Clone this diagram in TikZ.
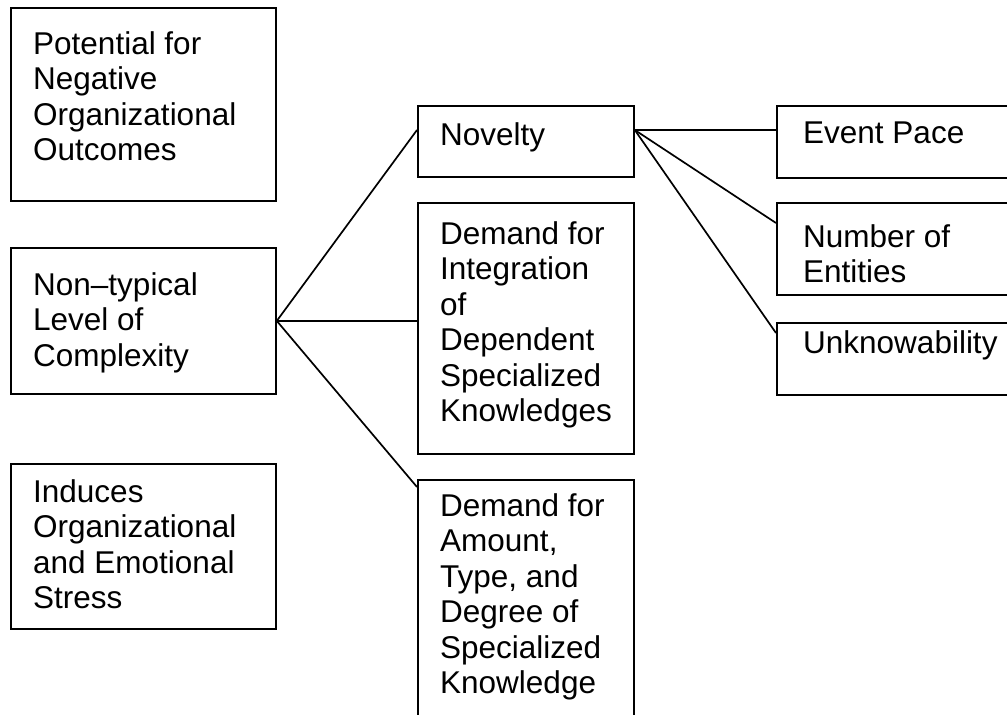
\documentclass[tikz,border=0pt]{standalone}
\usepackage{fontspec}
\setmainfont{Liberation Sans}
\begin{document}
\begin{tikzpicture}[x=1pt,y=-1pt,
  box/.style={draw=black,line width=1.8pt,rectangle,inner sep=0pt,anchor=north west},
  label/.style={inner sep=0pt,anchor=north west,align=left,
    font=\fontsize{31.5}{35.5}\selectfont},
  link/.style={draw=black,line width=1.7pt}]
\useasboundingbox (0,0) rectangle (1007,715);
\clip (0,0) rectangle (1007,715);

% left column
\node[box,minimum width=265pt,minimum height=193pt] (outc) at (10,7) {};
\node[label] (outct) at (33,31) {Potential for\\Negative\\Organizational\\Outcomes};

\node[box,minimum width=265pt,minimum height=146pt] (cplx) at (10,247) {};
\node[label] (cplxt) at (33,272) {Non--typical\\Level of\\Complexity};

\node[box,minimum width=265pt,minimum height=165pt] (strs) at (10,463) {};
\node[label] (strst) at (33,479) {Induces\\Organizational\\and Emotional\\Stress};

% middle column
\node[box,minimum width=216pt,minimum height=71pt] (nov) at (417,105) {};
\node[label] (novt) at (440,122) {Novelty};

\node[box,minimum width=216pt,minimum height=251pt] (dint) at (417,202) {};
\node[label] (dintt) at (440,221) {Demand for\\Integration\\of\\Dependent\\Specialized\\Knowledges};

\node[box,minimum width=216pt,minimum height=260pt] (damt) at (417,479) {};
\node[label] (damtt) at (440,493) {Demand for\\Amount,\\Type, and\\Degree of\\Specialized\\Knowledge};

% right column
\node[box,minimum width=250pt,minimum height=72pt] (pace) at (776,105) {};
\node[label] (pacet) at (803,122) {Event Pace};

\node[box,minimum width=250pt,minimum height=92pt] (ents) at (776,202) {};
\node[label] (entst) at (803,224) {Number of\\Entities};

\node[box,minimum width=250pt,minimum height=72pt] (unkn) at (776,322) {};
\node[label] (unknt) at (803,330) {Unknowability};

% connectors from complexity
\draw[link] (cplx.east) -- ([yshift=-25pt]nov.north west);
\draw[link] (cplx.east) -- (cplx.east -| dint.west);
\draw[link] (cplx.east) -- ([yshift=-8pt]damt.north west);

% connectors from novelty
\coordinate (novr) at ([yshift=-25pt]nov.north east);
\draw[link] (novr) -- (novr -| pace.west);
\draw[link] (novr) -- ([yshift=-21pt]ents.north west);
\draw[link] (novr) -- ([yshift=-11pt]unkn.north west);
\end{tikzpicture}
\end{document}
